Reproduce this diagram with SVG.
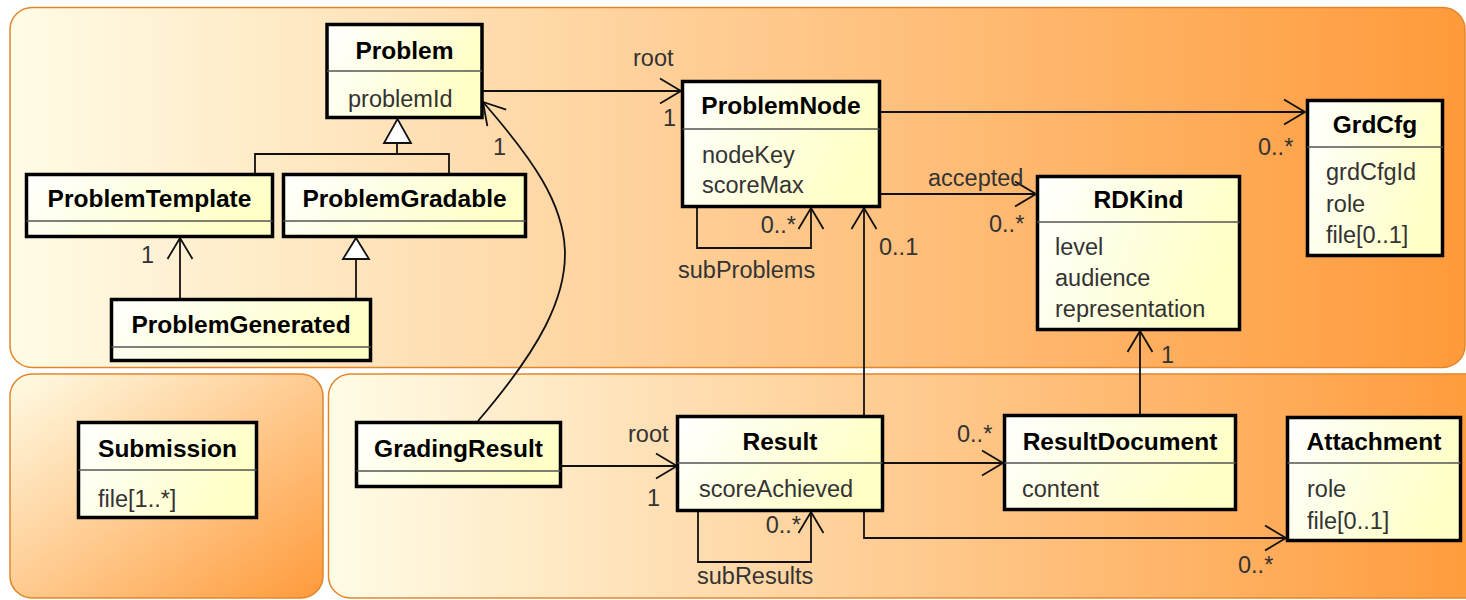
<svg xmlns="http://www.w3.org/2000/svg" width="1466" height="600" viewBox="0 0 1466 600">
<defs>
<linearGradient id="pkgH" x1="0" y1="0" x2="1" y2="0">
<stop offset="0" stop-color="#fffce6"/>
<stop offset="1" stop-color="#ff9a3a"/>
</linearGradient>
<linearGradient id="pkgD" x1="0" y1="0" x2="1" y2="1">
<stop offset="0" stop-color="#fffce6"/>
<stop offset="1" stop-color="#ff9a3a"/>
</linearGradient>
<linearGradient id="boxG" x1="0" y1="0" x2="1" y2="0.3">
<stop offset="0" stop-color="#ffffff"/>
<stop offset="1" stop-color="#ffffc6"/>
</linearGradient>
<marker id="open" markerUnits="userSpaceOnUse" markerWidth="30" markerHeight="30" viewBox="-24 -15 28 30" refX="0" refY="0" orient="auto">
<path d="M -21 -12.5 L 0 0 L -21 12.5" fill="none" stroke="#111" stroke-width="1.8"/>
</marker>
<style>
.pkg{stroke:#e2862c;stroke-width:1.5}
.box{fill:url(#boxG);stroke:#000;stroke-width:3.5}
.div{stroke:#555;stroke-width:1.5}
.t{font-family:"Liberation Sans",Arial,sans-serif;font-weight:bold;font-size:24.5px;fill:#000;text-anchor:middle}
.a{font-family:"Liberation Sans",Arial,sans-serif;font-size:23.5px;fill:#333}
.l{font-family:"Liberation Sans",Arial,sans-serif;font-size:23.5px;fill:#333}
.c{fill:none;stroke:#111;stroke-width:1.8}
.arr{marker-end:url(#open)}
.gen{fill:#fff;stroke:#111;stroke-width:1.8}
</style>
</defs>

<g id="packages">
<rect class="pkg" x="10" y="7.5" width="1455" height="360" rx="22" fill="url(#pkgH)"/>
<rect class="pkg" x="10" y="374" width="313" height="224" rx="22" fill="url(#pkgD)"/>
<rect class="pkg" x="328.5" y="374" width="1160" height="224" rx="22" fill="url(#pkgH)"/>
</g>

<g id="connectors">
<path class="c arr" d="M 483 91 H 681"/>
<path class="c arr" d="M 478 421 C 603 275, 583 217, 483 102"/>
<path class="c arr" d="M 881 112 H 1305"/>
<path class="c arr" d="M 881 194 H 1036"/>
<path class="c arr" d="M 697 208 V 248 H 811 V 208"/>
<path class="c arr" d="M 864 415 V 208"/>
<path class="c arr" d="M 562 466 H 677"/>
<path class="c arr" d="M 698 512 V 562 H 811 V 512"/>
<path class="c arr" d="M 884 463 H 1003"/>
<path class="c arr" d="M 1140 414 V 331"/>
<path class="c arr" d="M 864 512 V 538 H 1286"/>
<path class="c arr" d="M 180 298 V 238"/>
<path class="c" d="M 356 298 V 259"/>
<polygon class="gen" points="343,259 369,259 356,238"/>
<path class="c" d="M 397 143 V 154 M 255 173 V 154 H 449 V 173"/>
<polygon class="gen" points="384,143 411,143 397.5,119"/>
<text class="l" x="633" y="66">root</text>
<text class="l" x="663" y="126">1</text>
<text class="l" x="493" y="155">1</text>
<text class="l" x="796" y="233" text-anchor="end">0..*</text>
<text class="l" x="678" y="278">subProblems</text>
<text class="l" x="1258" y="155">0..*</text>
<text class="l" x="928" y="186">accepted</text>
<text class="l" x="989" y="232">0..*</text>
<text class="l" x="879" y="255">0..1</text>
<text class="l" x="1161" y="363">1</text>
<text class="l" x="141" y="263">1</text>
<text class="l" x="628" y="442">root</text>
<text class="l" x="647" y="506">1</text>
<text class="l" x="801" y="533" text-anchor="end">0..*</text>
<text class="l" x="697" y="584">subResults</text>
<text class="l" x="957" y="442">0..*</text>
<text class="l" x="1238" y="573">0..*</text>
</g>

<g id="Problem">
<rect class="box" x="327" y="24.5" width="155" height="93"/>
<line class="div" x1="327" y1="71" x2="482" y2="71"/>
<text class="t" x="404.5" y="59">Problem</text>
<text class="a" x="348" y="106.5">problemId</text>
</g>
<g id="ProblemTemplate">
<rect class="box" x="26.5" y="174.5" width="246" height="62"/>
<line class="div" x1="26.5" y1="221" x2="272.5" y2="221"/>
<text class="t" x="149.5" y="207">ProblemTemplate</text>
</g>
<g id="ProblemGradable">
<rect class="box" x="283.5" y="174.5" width="242" height="62"/>
<line class="div" x1="283.5" y1="221" x2="525.5" y2="221"/>
<text class="t" x="404.5" y="207">ProblemGradable</text>
</g>
<g id="ProblemGenerated">
<rect class="box" x="111.5" y="299.5" width="259" height="61"/>
<line class="div" x1="111.5" y1="347" x2="370.5" y2="347"/>
<text class="t" x="241" y="333">ProblemGenerated</text>
</g>
<g id="ProblemNode">
<rect class="box" x="682.5" y="81.5" width="197" height="125"/>
<line class="div" x1="682.5" y1="129" x2="879.5" y2="129"/>
<text class="t" x="781" y="114">ProblemNode</text>
<text class="a" x="702" y="163">nodeKey</text>
<text class="a" x="702" y="193">scoreMax</text>
</g>
<g id="GrdCfg">
<rect class="box" x="1307.5" y="100.5" width="135" height="155"/>
<line class="div" x1="1307.5" y1="147" x2="1442.5" y2="147"/>
<text class="t" x="1375" y="133">GrdCfg</text>
<text class="a" x="1326" y="180">grdCfgId</text>
<text class="a" x="1326" y="212">role</text>
<text class="a" x="1326" y="243">file[0..1]</text>
</g>
<g id="RDKind">
<rect class="box" x="1037.5" y="176.5" width="202" height="153"/>
<line class="div" x1="1037.5" y1="222" x2="1239.5" y2="222"/>
<text class="t" x="1138.5" y="208">RDKind</text>
<text class="a" x="1055" y="255">level</text>
<text class="a" x="1055" y="286">audience</text>
<text class="a" x="1055" y="317">representation</text>
</g>
<g id="Submission">
<rect class="box" x="78.5" y="422.5" width="178" height="95"/>
<line class="div" x1="78.5" y1="470" x2="256.5" y2="470"/>
<text class="t" x="167.5" y="457">Submission</text>
<text class="a" x="98" y="507">file[1..*]</text>
</g>
<g id="GradingResult">
<rect class="box" x="356.5" y="422.5" width="204" height="64"/>
<line class="div" x1="356.5" y1="471" x2="560.5" y2="471"/>
<text class="t" x="458.5" y="457">GradingResult</text>
</g>
<g id="Result">
<rect class="box" x="677.5" y="416.5" width="205" height="94"/>
<line class="div" x1="677.5" y1="463" x2="882.5" y2="463"/>
<text class="t" x="780" y="450">Result</text>
<text class="a" x="699" y="497">scoreAchieved</text>
</g>
<g id="ResultDocument">
<rect class="box" x="1004.5" y="415.5" width="231" height="94"/>
<line class="div" x1="1004.5" y1="463" x2="1235.5" y2="463"/>
<text class="t" x="1120" y="450">ResultDocument</text>
<text class="a" x="1022" y="497">content</text>
</g>
<g id="Attachment">
<rect class="box" x="1287.5" y="417.5" width="173" height="123"/>
<line class="div" x1="1287.5" y1="463" x2="1460.5" y2="463"/>
<text class="t" x="1374" y="450">Attachment</text>
<text class="a" x="1307" y="497">role</text>
<text class="a" x="1307" y="529">file[0..1]</text>
</g>
</svg>
